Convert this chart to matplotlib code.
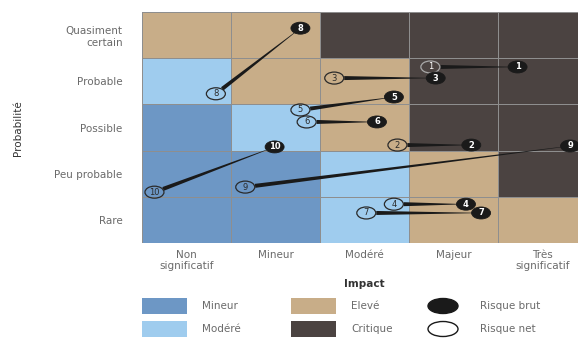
import numpy as np
import matplotlib.pyplot as plt
from matplotlib.colors import ListedColormap
from matplotlib.patches import Ellipse, Rectangle, Polygon

# risk levels : 0 mineur, 1 modere, 2 eleve, 3 critique (rows from Rare up)
levels = np.array([[0, 0, 1, 2, 2],
                   [0, 0, 1, 2, 3],
                   [0, 1, 2, 3, 3],
                   [1, 2, 2, 3, 3],
                   [2, 2, 3, 3, 3]])
level_names = ['Mineur', 'Modéré', 'Elevé', 'Critique']
level_colors = ['#6d97c5', '#9fccee', '#c8ad88', '#4b4341']

impact_labels = ['Non\nsignificatif', 'Mineur', 'Modéré', 'Majeur', 'Très\nsignificatif']
proba_labels = ['Rare', 'Peu probable', 'Possible', 'Probable', 'Quasiment\ncertain']

risk_ids = ['1', '2', '3', '4', '5', '6', '7', '8', '9', '10']
# gross risk (x = impact, y = probability, in cell units)
brut_x = [4.22, 3.70, 3.30, 3.64, 2.83, 2.64, 3.81, 1.78, 4.81, 1.49]
brut_y = [3.81, 2.12, 3.57, 0.84, 3.16, 2.62, 0.65, 4.65, 2.10, 2.08]
# net risk
net_x = [3.24, 2.87, 2.16, 2.83, 1.78, 1.85, 2.52, 0.83, 1.16, 0.14]
net_y = [3.81, 2.12, 3.57, 0.84, 2.88, 2.62, 0.65, 3.23, 1.21, 1.10]

W, H = 578, 338
fig = plt.figure(figsize=(W / 100, H / 100), dpi=100)
ax = fig.add_axes([142 / W, 95 / H, 445 / W, 231 / H])

cmap = ListedColormap(level_colors)
ax.pcolormesh(np.arange(6), np.arange(6), levels, cmap=cmap, vmin=-0.5, vmax=3.5,
              edgecolors='#8e8e8e', linewidth=0.5)
ax.set_xlim(0, 5)
ax.set_ylim(0, 5)
for s in ax.spines.values():
    s.set_visible(False)
ax.set_xticks(np.arange(5) + 0.5)
ax.set_xticklabels(impact_labels, fontsize=7.5, color='#6a6a6a', linespacing=1.15)
ax.set_yticks(np.arange(5) + 0.5)
ax.set_yticklabels(proba_labels, fontsize=7.5, color='#6a6a6a', linespacing=1.25)
ax.tick_params(length=0, pad=5)
ax.tick_params(axis='y', pad=14)
ax.set_xlabel('Impact', fontsize=7.5, fontweight='bold', color='#333333', labelpad=6)

# ellipse size in pixels
ew, eh = 19, 12
sx = 445 / 5
sy = 231 / 5

# tapered links from net to gross risk
for i in range(len(risk_ids)):
    p0 = np.array([net_x[i] * sx, net_y[i] * sy])
    p1 = np.array([brut_x[i] * sx, brut_y[i] * sy])
    d = p1 - p0
    L = np.hypot(*d)
    if L < 1:
        continue
    u = d / L
    a, b = ew / 2, eh / 2
    r = a * b / np.sqrt((b * u[0]) ** 2 + (a * u[1]) ** 2)
    q0 = p0 + u * (r + 0.5)
    q1 = p1 - u * r * 0.5
    n = np.array([-u[1], u[0]])
    w0, w1 = 2.0, 0.2
    pts = np.array([q0 + n * w0, q1 + n * w1, q1 - n * w1, q0 - n * w0])
    pts[:, 0] /= sx
    pts[:, 1] /= sy
    ax.add_patch(Polygon(pts, closed=True, facecolor='#1a1a1a', edgecolor='none', zorder=3))

for i, rid in enumerate(risk_ids):
    on_dark = levels[int(net_y[i]), int(net_x[i])] == 3
    ring = '#a8a8a8' if on_dark else '#2a2a2a'
    tc = 'white' if on_dark else '#2a2a2a'
    ax.add_patch(Ellipse((net_x[i], net_y[i]), ew / sx, eh / sy, facecolor='none',
                         edgecolor=ring, linewidth=0.9, zorder=4))
    ax.text(net_x[i], net_y[i], rid, ha='center', va='center', fontsize=6,
            color=tc, zorder=5)
    ax.add_patch(Ellipse((brut_x[i], brut_y[i]), ew / sx, eh / sy, facecolor='#1a1a1a',
                         edgecolor='#1a1a1a', linewidth=0.6, zorder=4))
    ax.text(brut_x[i], brut_y[i], rid, ha='center', va='center', fontsize=6,
            fontweight='bold', color='white', zorder=5)

fig.text(18 / W, 1 - 128 / H, 'Probabilité', rotation=90, ha='center', va='center',
         fontsize=7.5, color='#333333', family=['Liberation Sans Narrow', 'DejaVu Sans'])

# legend
lg = fig.add_axes([0, 0, 1, 1])
lg.set_xlim(0, W)
lg.set_ylim(H, 0)
lg.axis('off')
lg.patch.set_visible(False)
for k, name in enumerate(level_names):
    col, row = divmod(k, 2)
    x0 = 142 + col * 149
    y0 = 298 + row * 23
    lg.add_patch(Rectangle((x0, y0), 45, 16, facecolor=level_colors[k], edgecolor='none'))
    lg.text(x0 + 60, y0 + 8, name, ha='left', va='center', fontsize=7.5, color='#6a6a6a')
for row, (name, fc) in enumerate([('Risque brut', '#1a1a1a'), ('Risque net', 'white')]):
    yc = 306 + row * 23
    lg.add_patch(Ellipse((443, yc), 30, 15, facecolor=fc, edgecolor='#1a1a1a', linewidth=1.0))
    lg.text(480, yc, name, ha='left', va='center', fontsize=7.5, color='#6a6a6a')

fig.savefig('out.png', dpi=100)
